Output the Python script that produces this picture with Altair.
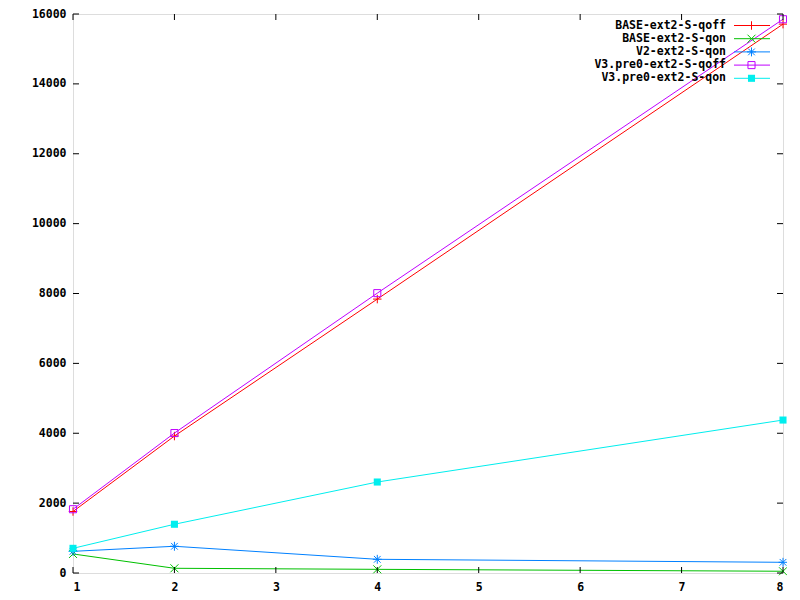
import altair as alt
import pandas as pd

xs = [1, 2, 4, 8]
names = ["BASE-ext2-S-qoff", "BASE-ext2-S-qon", "V2-ext2-S-qon",
         "V3.pre0-ext2-S-qoff", "V3.pre0-ext2-S-qon"]
base_qoff = [1760, 3920, 7840, 15710]
base_qon = [545, 135, 105, 50]
v2_qon = [620, 765, 392, 306]
v3_qoff = [1825, 4005, 8010, 15850]
v3_qon = [706, 1395, 2604, 4378]
series_vals = [base_qoff, base_qon, v2_qon, v3_qoff, v3_qon]
colors = ["#ff0000", "#00c000", "#0080ff", "#c000ff", "#00eeee"]
x_ticks = [1, 2, 3, 4, 5, 6, 7, 8]
y_ticks = [0, 2000, 4000, 6000, 8000, 10000, 12000, 14000, 16000]

PLUS = "M-1,0L1,0M0,-1L0,1"
CROSS = "M-1,-1L1,1M-1,1L1,-1"
STAR = "M-1,0L1,0M0,-1L0,1M-0.75,-0.75L0.75,0.75M-0.75,0.75L0.75,-0.75"
SQUARE = "M-1,-1L1,-1L1,1L-1,1Z"
shapes = [PLUS, CROSS, STAR, SQUARE, SQUARE]
fills = [False, False, False, False, True]
sizes = [72, 64, 80, 50, 50]

W, H = 710, 559
FONT = "DejaVu Sans Mono"

xscale = alt.Scale(domain=[1, 8], nice=False, zero=False)
yscale = alt.Scale(domain=[0, 16000], nice=False)

layers = []
for i, n in enumerate(names):
    df = pd.DataFrame({"x": xs, "y": series_vals[i], "series": n})
    xenc = alt.X("x:Q", scale=xscale, title=None,
                 axis=alt.Axis(values=x_ticks, format="d", grid=False, ticks=False,
                               tickSize=0, domain=False, labelPadding=8,
                               labelFont=FONT, labelFontSize=11.5, labelFontWeight="bold",
                               labelColor="black"))
    yenc = alt.Y("y:Q", scale=yscale, title=None,
                 axis=alt.Axis(values=y_ticks, format="d", grid=False, ticks=False,
                               tickSize=0, domain=False, labelPadding=7,
                               labelFont=FONT, labelFontSize=11.5, labelFontWeight="bold",
                               labelColor="black"))
    line = alt.Chart(df).mark_line(color=colors[i], strokeWidth=1).encode(x=xenc, y=yenc)
    pts = alt.Chart(df).mark_point(shape=shapes[i], size=sizes[i], color=colors[i],
                                   filled=fills[i], strokeWidth=1, opacity=1).encode(x=xenc, y=yenc)
    layers += [line, pts]

# inward ticks (mirrored)
xt = pd.DataFrame({"x": x_ticks})
yt = pd.DataFrame({"y": y_ticks})
layers.append(alt.Chart(xt).mark_rule(color="black", strokeWidth=1).encode(
    x=alt.X("x:Q", scale=xscale), y=alt.value(H), y2=alt.value(H - 6)))
layers.append(alt.Chart(xt).mark_rule(color="black", strokeWidth=1).encode(
    x=alt.X("x:Q", scale=xscale), y=alt.value(0), y2=alt.value(6)))
layers.append(alt.Chart(yt).mark_rule(color="black", strokeWidth=1).encode(
    y=alt.Y("y:Q", scale=yscale), x=alt.value(0), x2=alt.value(6)))
layers.append(alt.Chart(yt).mark_rule(color="black", strokeWidth=1).encode(
    y=alt.Y("y:Q", scale=yscale), x=alt.value(W), x2=alt.value(W - 6)))

# custom legend (gnuplot style)
for i, n in enumerate(names):
    ly = 11.5 + 13.2 * i
    ldf = pd.DataFrame({"label": [n]})
    layers.append(alt.Chart(ldf).mark_text(align="right", baseline="middle", font=FONT,
                                           fontSize=11.5, fontWeight="bold", color="black").encode(
        text="label:N", x=alt.value(653), y=alt.value(ly)))
    layers.append(alt.Chart(ldf).mark_rule(color=colors[i], strokeWidth=1).encode(
        x=alt.value(661), x2=alt.value(697), y=alt.value(ly)))
    layers.append(alt.Chart(ldf).mark_point(shape=shapes[i], size=sizes[i], color=colors[i],
                                            filled=fills[i], strokeWidth=1, opacity=1).encode(
        x=alt.value(678.5), y=alt.value(ly)))

chart = alt.layer(*layers).properties(
    width=W, height=H,
    autosize=alt.AutoSizeParams(type="none"),
    padding={"left": 65, "top": 6, "right": 4, "bottom": 19},
).configure_view(stroke="black", strokeWidth=1).configure(background="white")

chart.save("out.html", embed_options={"renderer": "svg", "actions": False})
